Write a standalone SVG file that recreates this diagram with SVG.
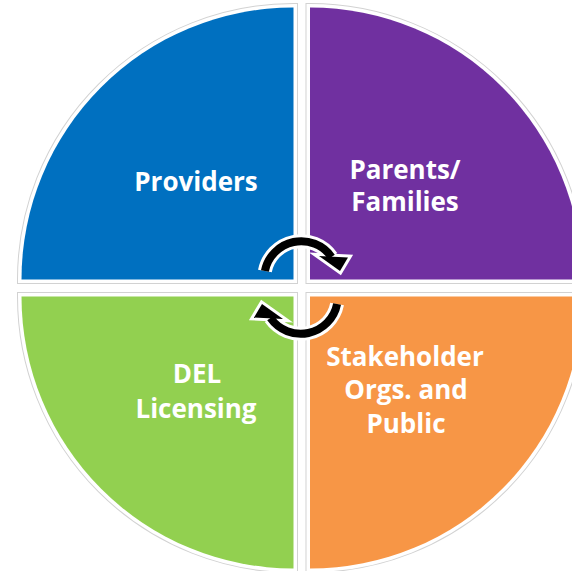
<svg xmlns="http://www.w3.org/2000/svg" xmlns:xlink="http://www.w3.org/1999/xlink" width="572" height="571" viewBox="0 0 572 571">
<style>
.edge{fill:none;stroke:#d2d2d2;stroke-width:9;stroke-linejoin:miter}
.gap{fill:none;stroke:#ffffff;stroke-width:7;stroke-linejoin:miter}
.lbl{font-family:"Open Sans","Liberation Sans",sans-serif;font-weight:bold;font-size:26px;fill:#ffffff;text-anchor:middle}
.arcW{fill:none;stroke:#ffffff;stroke-width:14}
.arcB{fill:none;stroke:#000000;stroke-width:8}
.headW{fill:#ffffff;stroke:#ffffff;stroke-width:6;stroke-linejoin:miter}
.headB{fill:#000000}
</style>
<defs>
<path id="qTL" d="M293.5,279.5 L21.5,279.5 A272,272 0 0 1 293.5,7.5 Z"/>
<path id="qTR" d="M310,279.5 L310,7.5 A272,272 0 0 1 582,279.5 Z"/>
<path id="qBL" d="M293.5,296.5 L293.5,568.5 A272,272 0 0 1 21.5,296.5 Z"/>
<path id="qBR" d="M310,296.5 L582,296.5 A272,272 0 0 1 310,568.5 Z"/>
<g id="arrow">
<path class="arcW" d="M264.9,271 A37,37 0 0 1 331.5,257"/>
<polygon class="headW" points="319,256 348,257.5 340,271"/>
<path class="arcB" d="M264.9,271 A37,37 0 0 1 331.5,257"/>
<polygon class="headB" points="319,256 348,257.5 340,271"/>
</g>
</defs>
<rect width="572" height="571" fill="#ffffff"/>
<g id="providers">
<use xlink:href="#qTL" class="edge"/>
<use xlink:href="#qTL" class="gap"/>
<use xlink:href="#qTL" fill="#0070C0"/>
<text class="lbl" x="196" y="191">Providers</text>
</g>
<g id="parents">
<use xlink:href="#qTR" class="edge"/>
<use xlink:href="#qTR" class="gap"/>
<use xlink:href="#qTR" fill="#7030A0"/>
<text class="lbl" x="405" y="179">Parents/</text>
<text class="lbl" x="405" y="211">Families</text>
</g>
<g id="del">
<use xlink:href="#qBL" class="edge"/>
<use xlink:href="#qBL" class="gap"/>
<use xlink:href="#qBL" fill="#92D050"/>
<text class="lbl" x="197" y="383">DEL</text>
<text class="lbl" x="196" y="418">Licensing</text>
</g>
<g id="stakeholders">
<use xlink:href="#qBR" class="edge"/>
<use xlink:href="#qBR" class="gap"/>
<use xlink:href="#qBR" fill="#F79646"/>
<text class="lbl" x="405" y="366">Stakeholder</text>
<text class="lbl" x="406" y="399">Orgs. and</text>
<text class="lbl" x="406" y="433">Public</text>
</g>
<g id="connectors">
<use xlink:href="#arrow"/>
<use xlink:href="#arrow" transform="rotate(180 301 287.5)"/>
</g>
</svg>
